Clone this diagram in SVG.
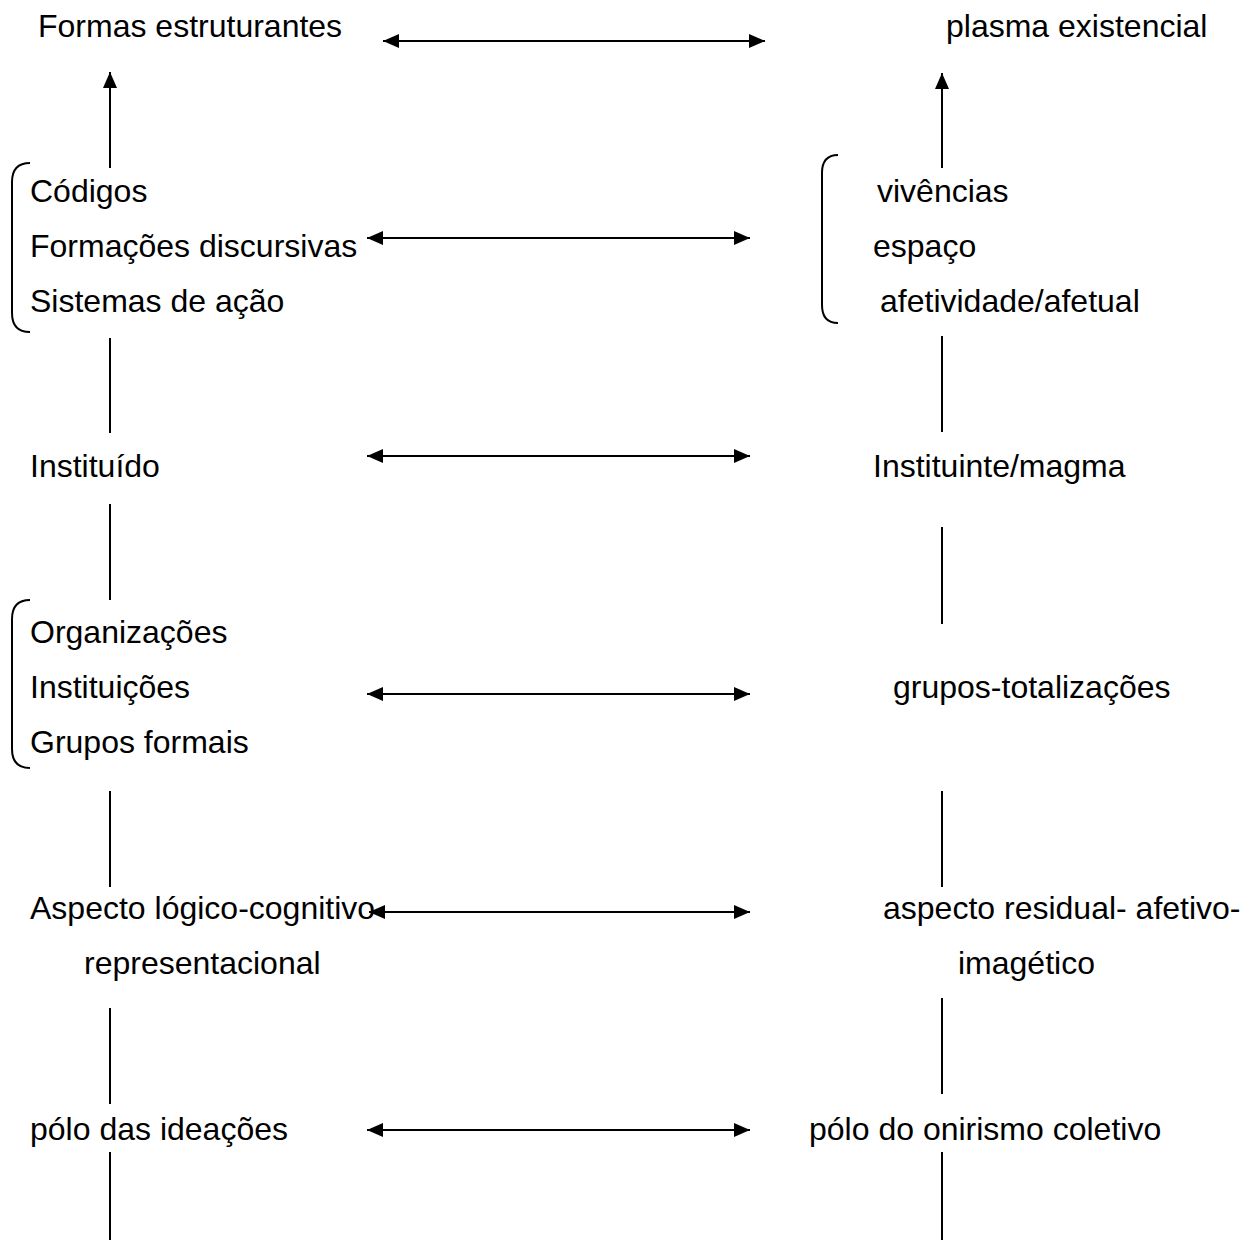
<svg xmlns="http://www.w3.org/2000/svg" width="1253" height="1240" viewBox="0 0 1253 1240">
  <defs>
    <style>
      .t { font-family: "Liberation Sans", Arial, sans-serif; font-size: 32px; fill: #000; }
      .ln { stroke: #000; stroke-width: 2; fill: none; }
      .br { stroke: #000; stroke-width: 2; fill: none; }
    </style>
    <marker id="ah" markerUnits="userSpaceOnUse" markerWidth="16" markerHeight="14" refX="16" refY="7" orient="auto-start-reverse" viewBox="0 0 16 14">
      <path d="M0,0 L16,7 L0,14 z" fill="#000"/>
    </marker>
  </defs>
  <rect width="1253" height="1240" fill="#fff"/>

  <!-- left column -->
  <g id="formas-estruturantes"><text class="t" x="38" y="37">Formas estruturantes</text></g>
  <g id="grupo-codigos">
    <path class="br" d="M30,163 Q12,163 12,182 L12,313 Q12,332 30,332"/>
    <text class="t" x="30" y="202">Códigos</text>
    <text class="t" x="30" y="257">Formações discursivas</text>
    <text class="t" x="30" y="312">Sistemas de ação</text>
  </g>
  <g id="instituido"><text class="t" x="30" y="477">Instituído</text></g>
  <g id="grupo-organizacoes">
    <path class="br" d="M30,600 Q12,600 12,619 L12,749 Q12,768 30,768"/>
    <text class="t" x="30" y="643">Organizações</text>
    <text class="t" x="30" y="698">Instituições</text>
    <text class="t" x="30" y="753">Grupos formais</text>
  </g>
  <g id="aspecto-logico">
    <text class="t" x="30" y="919">Aspecto lógico-cognitivo</text>
    <text class="t" x="84" y="974">representacional</text>
  </g>
  <g id="polo-ideacoes"><text class="t" x="30" y="1140">pólo das ideações</text></g>

  <!-- right column -->
  <g id="plasma-existencial"><text class="t" x="946" y="37">plasma existencial</text></g>
  <g id="grupo-vivencias">
    <path class="br" d="M838,155 Q822,155 822,173 L822,305 Q822,323 838,323"/>
    <text class="t" x="877" y="202">vivências</text>
    <text class="t" x="873" y="257">espaço</text>
    <text class="t" x="880" y="312">afetividade/afetual</text>
  </g>
  <g id="instituinte"><text class="t" x="873" y="477">Instituinte/magma</text></g>
  <g id="grupos-totalizacoes"><text class="t" x="893" y="698">grupos-totalizações</text></g>
  <g id="aspecto-residual">
    <text class="t" x="883" y="919">aspecto residual- afetivo-</text>
    <text class="t" x="958" y="974">imagético</text>
  </g>
  <g id="polo-onirismo"><text class="t" x="809" y="1140">pólo do onirismo coletivo</text></g>

  <!-- connectors -->
  <g id="connectors">
    <!-- horizontal two-way arrows -->
    <line class="ln" x1="383" y1="41" x2="765" y2="41" marker-start="url(#ah)" marker-end="url(#ah)"/>
    <line class="ln" x1="367" y1="238" x2="750" y2="238" marker-start="url(#ah)" marker-end="url(#ah)"/>
    <line class="ln" x1="367" y1="456" x2="750" y2="456" marker-start="url(#ah)" marker-end="url(#ah)"/>
    <line class="ln" x1="367" y1="694" x2="750" y2="694" marker-start="url(#ah)" marker-end="url(#ah)"/>
    <line class="ln" x1="369" y1="912" x2="750" y2="912" marker-start="url(#ah)" marker-end="url(#ah)"/>
    <line class="ln" x1="367" y1="1130" x2="750" y2="1130" marker-start="url(#ah)" marker-end="url(#ah)"/>

    <!-- left vertical chain -->
    <line class="ln" x1="110" y1="168" x2="110" y2="72" marker-end="url(#ah)"/>
    <line class="ln" x1="110" y1="338" x2="110" y2="433"/>
    <line class="ln" x1="110" y1="504" x2="110" y2="600"/>
    <line class="ln" x1="110" y1="791" x2="110" y2="887"/>
    <line class="ln" x1="110" y1="1008" x2="110" y2="1104"/>
    <line class="ln" x1="110" y1="1152" x2="110" y2="1240"/>

    <!-- right vertical chain -->
    <line class="ln" x1="942" y1="168" x2="942" y2="73" marker-end="url(#ah)"/>
    <line class="ln" x1="942" y1="336" x2="942" y2="432"/>
    <line class="ln" x1="942" y1="527" x2="942" y2="624"/>
    <line class="ln" x1="942" y1="791" x2="942" y2="887"/>
    <line class="ln" x1="942" y1="998" x2="942" y2="1094"/>
    <line class="ln" x1="942" y1="1152" x2="942" y2="1240"/>
  </g>
</svg>
